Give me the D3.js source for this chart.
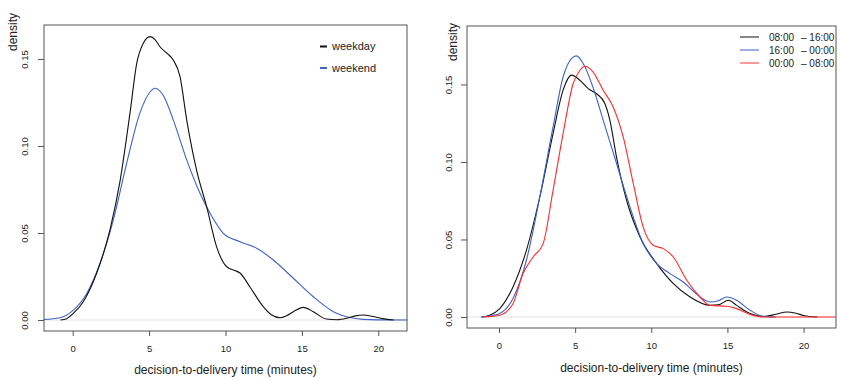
<!DOCTYPE html>
<html><head><meta charset="utf-8">
<script src="https://cdn.jsdelivr.net/npm/d3@7"></script>
<style>body{margin:0;background:#fff}svg{display:block}text{font-family:"Liberation Sans",Arial,sans-serif;fill:#222}</style>
</head><body><svg id="c" width="841" height="380"></svg>
<script>
// ---- data ----
const xTicks = [0, 5, 10, 15, 20];
const yTicks = [0, 0.05, 0.10, 0.15];
const leftLegend = ["weekday", "weekend"];
const rightLegend = ["08:00", "16:00", "00:00"];
const rightLegendEnd = ["16:00", "00:00", "08:00"];

const weekdayX = [-0.8,-0.4,0.04,0.69,1.57,2.44,3.1,3.75,4.19,4.62,5.06,5.4,5.71,6.2,6.58,7.02,7.46,8.11,8.77,9.42,10.08,10.6,10.95,11.6,12.47,13.0,13.57,14.0,14.44,15.09,15.75,16.6,17.3,18.0,18.5,19.0,19.6,20.3,21.0];
const weekdayY = [0,0.0008,0.0038,0.0105,0.027,0.052,0.080,0.119,0.1475,0.159,0.1628,0.161,0.157,0.153,0.1494,0.140,0.115,0.086,0.065,0.042,0.0306,0.0285,0.027,0.019,0.0077,0.003,0.0013,0.0025,0.0048,0.0073,0.0048,0.0006,0.0002,0.0012,0.0024,0.0029,0.0022,0.0008,0];
const weekendX = [-1.9,-0.83,0.04,0.92,1.79,2.66,3.53,4.4,5.06,5.39,5.93,6.58,7.46,8.33,8.99,9.86,10.95,12.04,13.13,14.44,15.75,17.06,17.6,18.3,19.0,20.0,21.9];
const weekendY = [0.0003,0.0013,0.0057,0.0153,0.0326,0.0575,0.090,0.119,0.131,0.1332,0.129,0.115,0.092,0.0728,0.0613,0.0498,0.045,0.0412,0.0345,0.024,0.0134,0.0048,0.0028,0.0012,0.0004,0.0001,0];

const dayX = [-1.16,-0.61,0.05,0.92,1.8,2.68,3.55,4.21,4.76,5.31,5.86,6.41,6.95,7.28,7.72,8.38,9.26,10.36,11.45,12.55,13.86,14.4,15.07,15.6,16.49,17.37,18.2,18.9,19.5,20.0,20.9];
const dayY = [0,0.0011,0.0054,0.0194,0.043,0.0774,0.1183,0.1463,0.156,0.1527,0.1473,0.144,0.1377,0.127,0.103,0.0753,0.0516,0.0344,0.0215,0.0129,0.0075,0.0078,0.0108,0.0075,0.0022,0.0003,0.0018,0.0032,0.0024,0.001,0];
const eveX = [-1.16,-0.5,0.05,0.92,1.8,2.68,3.55,4.21,4.76,5.09,5.53,6.18,6.84,7.72,8.6,9.47,10.36,11.23,12.1,13.2,13.86,14.4,14.96,15.6,16.49,17.37,18.2];
const eveY = [0,0.0008,0.0022,0.0119,0.0366,0.0774,0.1226,0.1548,0.1667,0.1684,0.1635,0.148,0.127,0.099,0.071,0.0474,0.0344,0.028,0.0226,0.0129,0.0097,0.0105,0.0129,0.0108,0.0043,0.0004,0];
const nightX = [-1.05,-0.5,0.05,0.92,1.58,2.24,2.9,3.55,4.21,4.87,5.31,5.64,6.18,6.84,7.5,8.16,8.82,9.47,10.13,10.79,11.45,12.33,13.2,13.86,14.96,15.6,16.49,17.37,22.13];
const nightY = [0,0.0004,0.0011,0.0086,0.028,0.0387,0.0473,0.0817,0.1183,0.1506,0.159,0.1617,0.158,0.1463,0.1355,0.116,0.086,0.058,0.0463,0.0441,0.0387,0.0237,0.0129,0.0075,0.0069,0.0054,0.0017,0,0];

const svg = d3.select("#c");

function panel(opt){
  const x = d3.scaleLinear().domain(opt.xd).range([opt.l, opt.r]);
  const y = d3.scaleLinear().domain(opt.yd).range([opt.b, opt.t]);
  const g = svg.append("g");
  g.append("line").attr("x1", opt.l).attr("x2", opt.r).attr("y1", y(0)).attr("y2", y(0))
    .attr("stroke", "#e2e2e2").attr("stroke-width", 1);
  const line = d3.line().x(d => x(d[0])).y(d => y(d[1])).curve(d3.curveMonotoneX);
  opt.series.forEach(s => {
    g.append("path").datum(d3.zip(s.x, s.y)).attr("d", line)
      .attr("fill", "none").attr("stroke", s.color).attr("stroke-width", 1.1);
  });
  g.append("rect").attr("x", opt.l).attr("y", opt.t).attr("width", opt.r - opt.l).attr("height", opt.b - opt.t)
    .attr("fill", "none").attr("stroke", "#555").attr("stroke-width", 1);
  const xa = g.append("g").attr("transform", `translate(0,${opt.b})`)
    .call(d3.axisBottom(x).tickValues(xTicks).tickSize(5).tickPadding(9).tickFormat(d3.format("d")));
  xa.select(".domain").remove();
  xa.selectAll("line").attr("stroke", "#555");
  xa.selectAll("text").attr("fill", "#222").attr("font-family", "DejaVu Sans, sans-serif").attr("font-size", 9.5);
  const ya = g.append("g").attr("transform", `translate(${opt.l},0)`)
    .call(d3.axisLeft(y).tickValues(yTicks).tickSize(6).tickFormat(d3.format(".2f")));
  ya.select(".domain").remove();
  ya.selectAll("line").attr("stroke", "#555");
  ya.selectAll("text").attr("font-size", 9.5).attr("fill", "#222")
    .attr("font-family", "DejaVu Sans, sans-serif")
    .attr("text-anchor", "middle")
    .attr("x", 0).attr("y", 0).attr("dy", "0.35em")
    .attr("transform", `translate(${opt.ylx - opt.l},0)rotate(-90)`);
  g.append("text").attr("x", (opt.l + opt.r) / 2).attr("y", opt.xty).attr("text-anchor", "middle")
    .attr("font-size", 12).text("decision-to-delivery time (minutes)");
  g.append("text").attr("transform", `translate(${opt.ytx},${opt.yty})rotate(-90)`).attr("text-anchor", "end")
    .attr("font-size", 12).text("density");
  return {x, y, g};
}

const L = panel({
  l: 44, r: 407, t: 25, b: 331, xd: [-1.88, 21.88], yd: [-0.0063, 0.1695],
  ylx: 25, xty: 374, ytx: 17, yty: 13,
  series: [{x: weekendX, y: weekendY, color: "#3f62c4"}, {x: weekdayX, y: weekdayY, color: "#111"}]
});
const legL = L.g.append("g");
[["#111", 46.5], ["#3f62c4", 68]].forEach((c, i) => {
  legL.append("line").attr("x1", 320).attr("x2", 327).attr("y1", c[1]).attr("y2", c[1]).attr("stroke", c[0]).attr("stroke-width", 2);
  legL.append("text").attr("x", 332).attr("y", c[1]).attr("dy", "0.35em").attr("font-size", 11)
    .attr("font-family", "Open Sans, sans-serif").text(leftLegend[i]);
});

const R = panel({
  l: 467, r: 836, t: 26, b: 328, xd: [-2.1, 22.13], yd: [-0.0071, 0.1877],
  ylx: 449, xty: 372, ytx: 457, yty: 23,
  series: [{x: dayX, y: dayY, color: "#111"}, {x: eveX, y: eveY, color: "#3f62c4"}, {x: nightX, y: nightY, color: "#ff2a2a"}]
});
const legR = R.g.append("g");
[["#111", 37], ["#3f62c4", 50], ["#ff8080", 63]].forEach((c, i) => {
  legR.append("line").attr("x1", 740).attr("x2", 759).attr("y1", c[1]).attr("y2", c[1]).attr("stroke", c[0]).attr("stroke-width", c[0] === "#ff8080" ? 1.6 : 1);
  legR.append("text").attr("x", 769).attr("y", c[1]).attr("dy", "0.35em").attr("font-size", 10)
    .attr("font-family", "Open Sans, sans-serif").text(rightLegend[i]);
  legR.append("text").attr("x", 801).attr("y", c[1]).attr("dy", "0.35em").attr("font-size", 10)
    .attr("font-family", "Open Sans, sans-serif").text("\u2013 " + rightLegendEnd[i]);
});
</script></body></html>
